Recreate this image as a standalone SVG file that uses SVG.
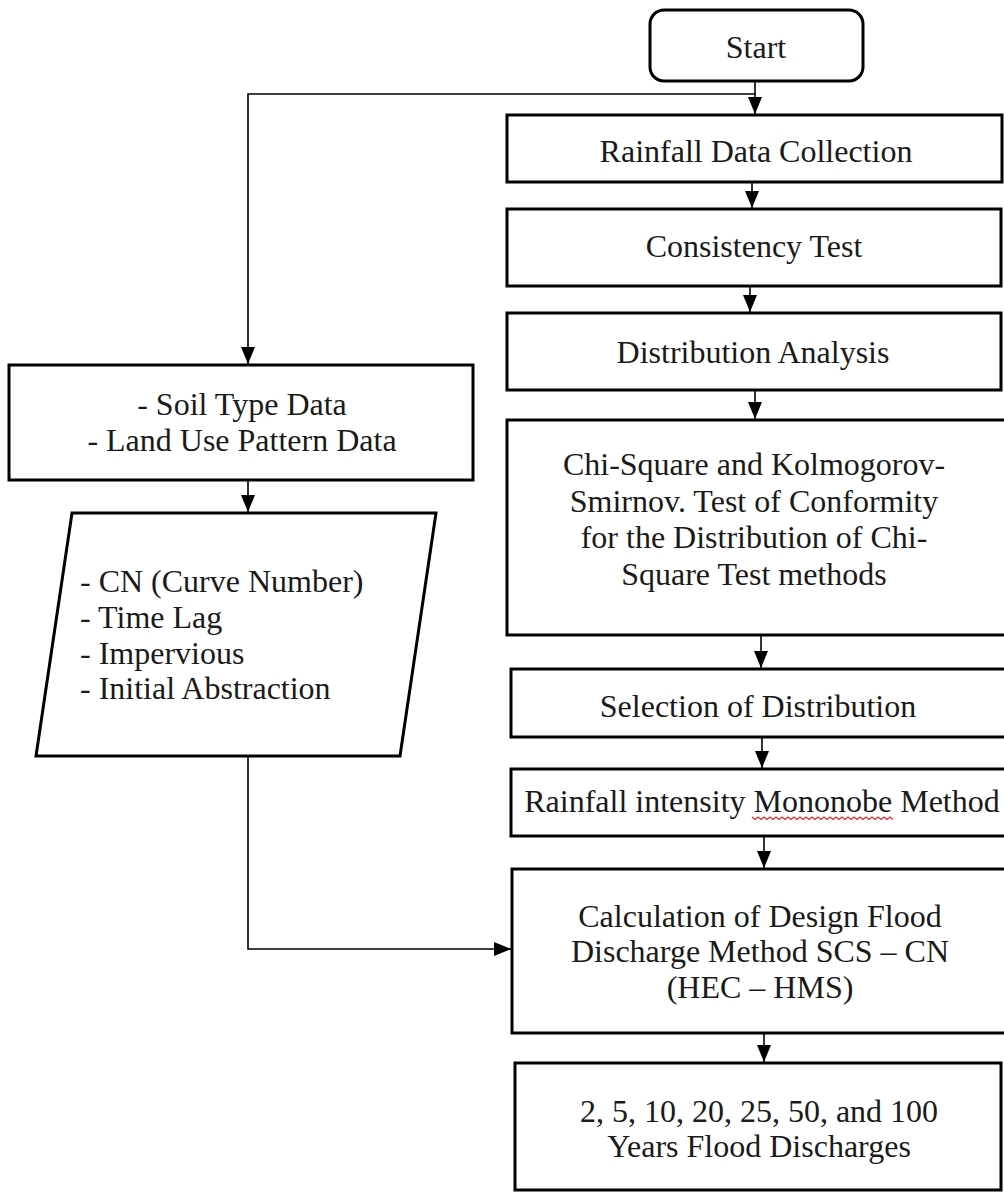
<svg xmlns="http://www.w3.org/2000/svg" width="1004" height="1193" viewBox="0 0 1004 1193">
<style>
  .box { fill: #ffffff; stroke: #000000; stroke-width: 3; }
  .lbl { font-family: "Liberation Serif", "Times New Roman", serif; font-size: 32px; fill: #1a1a1a; text-anchor: middle; }
  .lbl-left { font-family: "Liberation Serif", "Times New Roman", serif; font-size: 32px; fill: #1a1a1a; text-anchor: start; }
  .conn { fill: none; stroke: #000000; stroke-width: 1.6; }
</style>
<defs>
  <marker id="arrow" markerUnits="userSpaceOnUse" markerWidth="17" markerHeight="14" viewBox="0 0 17 14" refX="17" refY="7" orient="auto">
    <path d="M0,0 L17,7 L0,14 Z" fill="#000000"/>
  </marker>
</defs>
<rect x="0" y="0" width="1004" height="1193" fill="#ffffff"/>

<g id="connectors">
  <path class="conn" d="M755,81 V114" marker-end="url(#arrow)"/>
  <path class="conn" d="M755,94 H248 V364" marker-end="url(#arrow)"/>
  <path class="conn" d="M752,182 V208" marker-end="url(#arrow)"/>
  <path class="conn" d="M750,286 V312" marker-end="url(#arrow)"/>
  <path class="conn" d="M755,390 V419" marker-end="url(#arrow)"/>
  <path class="conn" d="M761,635 V668" marker-end="url(#arrow)"/>
  <path class="conn" d="M762,737 V768" marker-end="url(#arrow)"/>
  <path class="conn" d="M764,836 V868" marker-end="url(#arrow)"/>
  <path class="conn" d="M764,1033 V1062" marker-end="url(#arrow)"/>
  <path class="conn" d="M248,480 V512" marker-end="url(#arrow)"/>
  <path class="conn" d="M248,756 V949 H511" marker-end="url(#arrow)"/>
</g>

<g id="start">
  <rect class="box" x="650" y="10" width="213" height="71" rx="14" ry="14"/>
  <text class="lbl" x="756" y="58">Start</text>
</g>

<g id="rainfall-data">
  <rect class="box" x="507" y="115" width="495" height="67"/>
  <text class="lbl" x="756" y="162">Rainfall Data Collection</text>
</g>

<g id="consistency">
  <rect class="box" x="507" y="209" width="494" height="77"/>
  <text class="lbl" x="754" y="257">Consistency Test</text>
</g>

<g id="distribution">
  <rect class="box" x="507" y="313" width="494" height="77"/>
  <text class="lbl" x="753" y="363">Distribution Analysis</text>
</g>

<g id="chi-square">
  <rect class="box" x="507" y="420" width="500" height="215"/>
  <text class="lbl" x="754" y="475">Chi-Square and Kolmogorov-</text>
  <text class="lbl" x="754" y="512">Smirnov. Test of Conformity</text>
  <text class="lbl" x="754" y="548">for the Distribution of Chi-</text>
  <text class="lbl" x="754" y="585">Square Test methods</text>
</g>

<g id="selection">
  <rect class="box" x="511" y="669" width="500" height="68"/>
  <text class="lbl" x="758" y="717">Selection of Distribution</text>
</g>

<g id="intensity">
  <rect class="box" x="511" y="769" width="500" height="67"/>
  <text class="lbl" x="762" y="812">Rainfall intensity Mononobe Method</text>
  <path d="M752,817 l3,2.5 l3,-2.5 l3,2.5 l3,-2.5 l3,2.5 l3,-2.5 l3,2.5 l3,-2.5 l3,2.5 l3,-2.5 l3,2.5 l3,-2.5 l3,2.5 l3,-2.5 l3,2.5 l3,-2.5 l3,2.5 l3,-2.5 l3,2.5 l3,-2.5 l3,2.5 l3,-2.5 l3,2.5 l3,-2.5 l3,2.5 l3,-2.5 l3,2.5 l3,-2.5 l3,2.5 l3,-2.5 l3,2.5 l3,-2.5 l3,2.5 l3,-2.5 l3,2.5 l3,-2.5 l3,2.5 l3,-2.5 l3,2.5 l3,-2.5 l3,2.5 l3,-2.5 l3,2.5 l3,-2.5 l3,2.5 l3,-2.5 l3,2.5" fill="none" stroke="#d9262b" stroke-width="1.2"/>
</g>

<g id="calculation">
  <rect class="box" x="512" y="869" width="500" height="164"/>
  <text class="lbl" x="760" y="927">Calculation of Design Flood</text>
  <text class="lbl" x="760" y="962">Discharge Method SCS – CN</text>
  <text class="lbl" x="760" y="998">(HEC – HMS)</text>
</g>

<g id="flood-discharges">
  <rect class="box" x="515" y="1063" width="486" height="127"/>
  <text class="lbl" x="759" y="1122">2, 5, 10, 20, 25, 50, and 100</text>
  <text class="lbl" x="759" y="1157">Years Flood Discharges</text>
</g>

<g id="soil-landuse">
  <rect class="box" x="9" y="365" width="464" height="115"/>
  <text class="lbl" x="242" y="415">- Soil Type Data</text>
  <text class="lbl" x="242" y="451">- Land Use Pattern Data</text>
</g>

<g id="parameters">
  <polygon class="box" points="72,513 436,513 400,756 36,756"/>
  <text class="lbl-left" x="80" y="592">- CN (Curve Number)</text>
  <text class="lbl-left" x="80" y="628">- Time Lag</text>
  <text class="lbl-left" x="80" y="664">- Impervious</text>
  <text class="lbl-left" x="80" y="699">- Initial Abstraction</text>
</g>
</svg>
